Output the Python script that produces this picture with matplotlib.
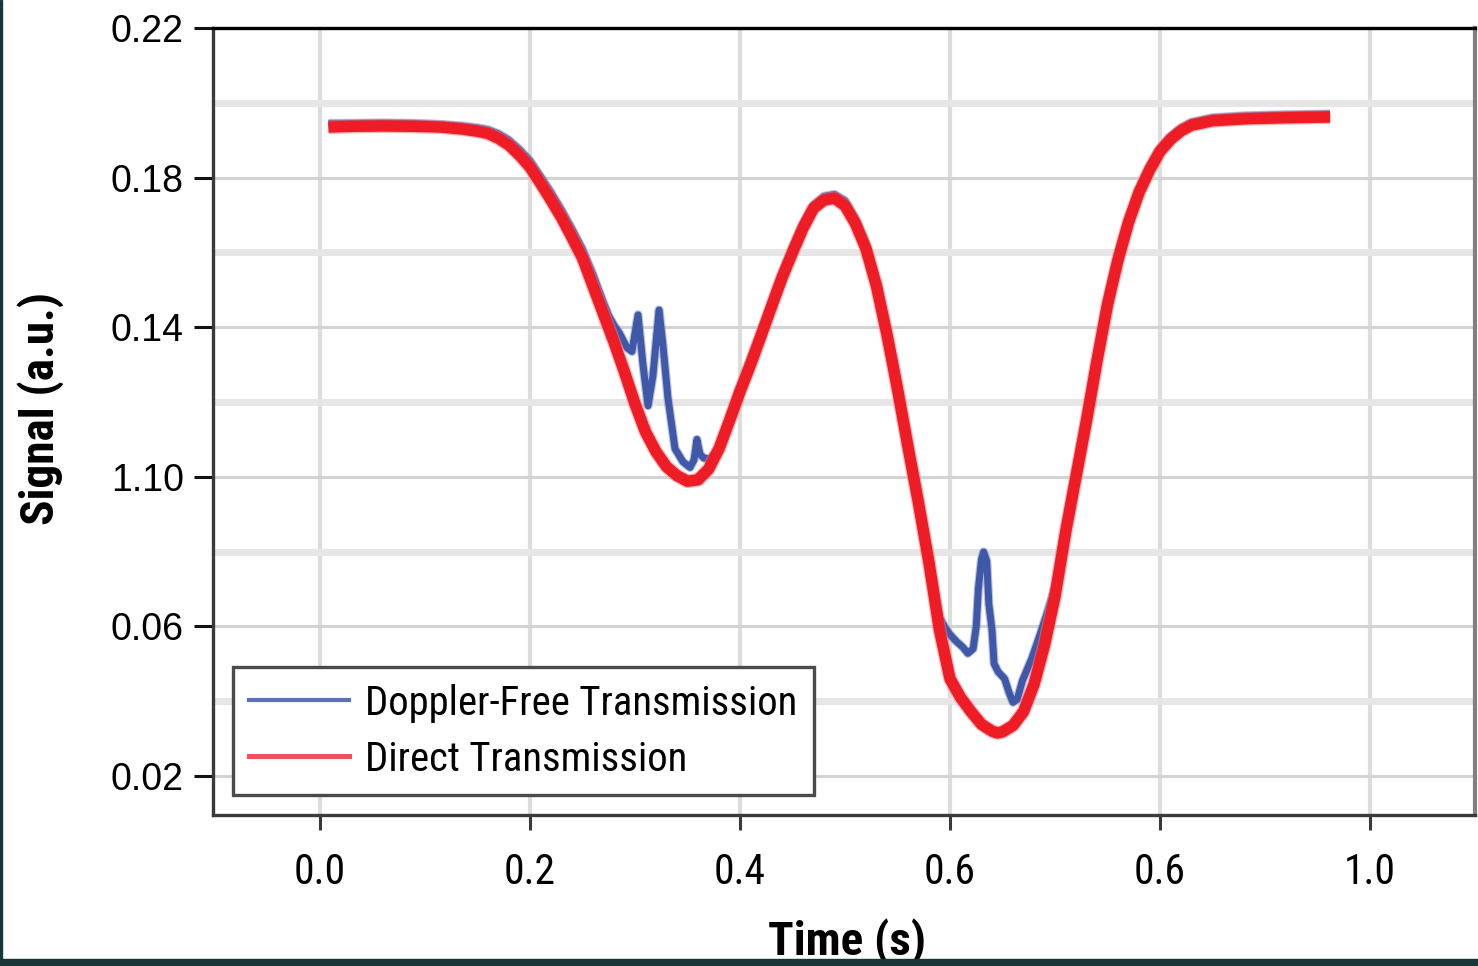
import matplotlib
matplotlib.use("Agg")
import matplotlib.pyplot as plt
from matplotlib.lines import Line2D
from matplotlib.patches import Rectangle
from matplotlib import font_manager as fm

# ---------------- data ----------------
direct_t = [0.008, 0.03, 0.06, 0.09, 0.115, 0.135, 0.15, 0.16, 0.17, 0.18, 0.19, 0.20,
            0.21, 0.22, 0.23, 0.24, 0.25, 0.26, 0.27, 0.28, 0.29, 0.30, 0.31, 0.32,
            0.33, 0.34, 0.35, 0.36, 0.37, 0.38, 0.39, 0.40, 0.41, 0.42, 0.43, 0.44,
            0.45, 0.46, 0.47, 0.48, 0.49, 0.50, 0.51, 0.52, 0.53, 0.54, 0.55, 0.56,
            0.57, 0.58, 0.59, 0.60, 0.61, 0.62, 0.63, 0.64, 0.645, 0.65, 0.66, 0.67,
            0.68, 0.69, 0.70, 0.71, 0.72, 0.73, 0.74, 0.75, 0.76, 0.77, 0.78, 0.79,
            0.80, 0.81, 0.82, 0.83, 0.85, 0.88, 0.92, 0.962]
direct_v = [0.1935, 0.1937, 0.1938, 0.1937, 0.1935, 0.1930, 0.1924, 0.1918, 0.1905, 0.1887, 0.1860, 0.1828,
            0.1785, 0.1740, 0.1693, 0.1640, 0.1585, 0.1510, 0.1435, 0.1360, 0.1280, 0.1195, 0.1120, 0.1067,
            0.1027, 0.1003, 0.0988, 0.0992, 0.1020, 0.1075, 0.1150, 0.1228, 0.1300, 0.1377, 0.1455, 0.1532,
            0.1600, 0.1665, 0.1718, 0.1740, 0.1745, 0.1725, 0.1677, 0.1610, 0.1510, 0.1380, 0.1235, 0.1080,
            0.0930, 0.0770, 0.0590, 0.0460, 0.0410, 0.0372, 0.0338, 0.0320, 0.0315, 0.0318, 0.0335, 0.0372,
            0.0445, 0.0550, 0.0680, 0.0850, 0.1000, 0.1150, 0.1310, 0.1460, 0.1580, 0.1680, 0.1760, 0.1820,
            0.1870, 0.1902, 0.1925, 0.1940, 0.1952, 0.1957, 0.1960, 0.1962]

doppler_t = [0.008, 0.03, 0.06, 0.09, 0.115, 0.135, 0.15, 0.16, 0.17, 0.18, 0.19, 0.20,
             0.21, 0.22, 0.23, 0.24, 0.25, 0.26, 0.27, 0.275, 0.28, 0.285, 0.2924, 0.2971,
             0.3029, 0.3076, 0.3124, 0.3171, 0.3229, 0.3267, 0.3314, 0.3381, 0.3457, 0.3524,
             0.3562, 0.359, 0.3619, 0.3657, 0.3714, 0.3771, 0.3829, 0.39, 0.40, 0.41, 0.42,
             0.43, 0.44, 0.45, 0.46, 0.47, 0.48, 0.49, 0.50, 0.51, 0.52, 0.53, 0.54, 0.55,
             0.56, 0.57, 0.58, 0.585, 0.59, 0.595, 0.600, 0.606, 0.612, 0.617, 0.622, 0.625,
             0.627, 0.630, 0.632, 0.635, 0.637, 0.640, 0.642, 0.646, 0.652, 0.656, 0.660,
             0.664, 0.669, 0.678, 0.686, 0.693, 0.70, 0.71, 0.72, 0.73, 0.74, 0.75, 0.76,
             0.77, 0.78, 0.79, 0.80, 0.81, 0.82, 0.83, 0.85, 0.88, 0.92, 0.962]
doppler_v = [0.1945, 0.1945, 0.1946, 0.1945, 0.1942, 0.1938, 0.1933, 0.1928, 0.1917, 0.1900, 0.1875, 0.1845,
             0.1803, 0.1760, 0.1713, 0.1662, 0.1608, 0.1540, 0.1465, 0.1430, 0.1405, 0.1385, 0.1345, 0.1335,
             0.1433, 0.1300, 0.1190, 0.1270, 0.1446, 0.1350, 0.1210, 0.1075, 0.1040, 0.1025,
             0.1045, 0.1100, 0.1060, 0.1050, 0.1048, 0.1065, 0.1095, 0.1160, 0.1240, 0.1315, 0.1388,
             0.1466, 0.1543, 0.1612, 0.1677, 0.1727, 0.1750, 0.1755, 0.1738, 0.1690, 0.1622, 0.1520, 0.1392, 0.1248,
             0.1093, 0.0943, 0.0785, 0.0700, 0.0625, 0.0598, 0.0578, 0.0560, 0.0545, 0.0528, 0.0540, 0.0600,
             0.0700, 0.0780, 0.0799, 0.0775, 0.0660, 0.0590, 0.0500, 0.0478, 0.0460, 0.0425, 0.0397,
             0.0405, 0.0455, 0.0515, 0.0580, 0.0640, 0.0705, 0.0870, 0.1020, 0.1170, 0.1325, 0.1475, 0.1595,
             0.1692, 0.1770, 0.1830, 0.1878, 0.1910, 0.1933, 0.1948, 0.1960, 0.1965, 0.1968, 0.1970]

x_ticks = [0.0, 0.2, 0.4, 0.6, 0.8, 1.0]
x_tick_labels = ["0.0", "0.2", "0.4", "0.6", "0.6", "1.0"]
y_ticks = [0.02, 0.06, 0.10, 0.14, 0.18, 0.22]
y_tick_labels = ["0.02", "0.06", "1.10", "0.14", "0.18", "0.22"]
y_minor = [0.04, 0.08, 0.12, 0.16, 0.20]
labels = ["Doppler-Free Transmission", "Direct Transmission"]


# ---------------- fonts: look for an installed narrow / condensed sans ----------------
def _weight(f):
    w = f.weight
    if isinstance(w, str):
        w = fm.weight_dict.get(w, 400)
    return int(w)


def find_narrow(bold):
    prefs = ["liberation sans narrow", "arial narrow", "roboto condensed",
             "noto sans", "dejavu sans", "open sans", "lato"]
    best, best_rank = None, 99
    for f in fm.fontManager.ttflist:
        nm = f.name.lower()
        fn = f.fname.lower()
        st = str(f.stretch).lower()
        if "mono" in nm or "serif" in nm or "mono" in fn or "cjk" in nm:
            continue
        narrow = ("narrow" in nm or "condensed" in nm or "condensed" in fn or "narrow" in fn
                  or st in ("condensed", "semi-condensed"))
        if not narrow:
            continue
        if "extra" in fn or "ultra" in fn or "semi" in fn or "extra" in st or "ultra" in st:
            continue
        if f.style != "normal":
            continue
        wt = _weight(f)
        if bold and not (650 <= wt <= 750):
            continue
        if not bold and not (380 <= wt <= 420):
            continue
        rank = 50
        for i, p in enumerate(prefs):
            if nm.startswith(p):
                rank = i
                break
        if rank < best_rank:
            best, best_rank = f, rank
    return best.fname if best else None


reg_file = find_narrow(False)
bold_file = find_narrow(True)


def fprop(size, bold=False):
    path = bold_file if bold else reg_file
    if path:
        return fm.FontProperties(fname=path, size=size)
    # fallback: regular width font, shrunk so the text keeps its width
    return fm.FontProperties(family=["Liberation Sans", "DejaVu Sans"], size=size * 0.83,
                             weight="bold" if bold else "normal")


REG = fm.FontProperties(family=["Liberation Sans", "DejaVu Sans"], size=27)
BLUE = "#3f58a8"
RED = "#ee1c25"

fig = plt.figure(figsize=(14.78, 9.66), dpi=100)
fig.patch.set_facecolor("white")
ax = fig.add_axes([213/1478, 1 - 815/966, (1475-213)/1478, (815-28)/966])

ax.plot(doppler_t, doppler_v, color="#8d9ad0", lw=6.6, alpha=0.6, zorder=2, solid_capstyle="butt")
ax.plot(doppler_t, doppler_v, color=BLUE, lw=5.0, zorder=2.1, solid_capstyle="butt")
ax.plot(direct_t, direct_v, color="#f47a80", lw=10.0, alpha=0.55, zorder=3, solid_capstyle="butt")
ax.plot(direct_t, direct_v, color=RED, lw=8.2, zorder=3.1, solid_capstyle="butt")

ax.set_xlim(-0.1019, 1.1)
ax.set_ylim(0.00957, 0.22)

ax.set_xticks(x_ticks)
ax.set_xticklabels(x_tick_labels, fontproperties=fprop(30))
ax.set_yticks(y_ticks)
ax.set_yticklabels(y_tick_labels, fontproperties=REG)
ax.set_yticks(y_minor, minor=True)
ax.tick_params(axis="y", which="major", length=14, width=2.2, color="#111111", pad=7)
ax.tick_params(axis="x", which="major", length=11, width=2.2, color="#3a3a3a", pad=16)
ax.tick_params(axis="y", which="minor", length=0)

ax.grid(False)
for xt in x_ticks:
    ax.axvline(xt, color="#dddddd", lw=3.0, zorder=0.5)
for yt in y_ticks:
    ax.axhline(yt, color="#d3d3d3", lw=2.2, zorder=0.6)
for ym in y_minor:
    ax.axhline(ym, color="#e6e6e6", lw=5.0, zorder=0.55)

ax.spines["top"].set_color("#000000")
ax.spines["top"].set_linewidth(2.4)
ax.spines["left"].set_color("#3a3a3a")
ax.spines["left"].set_linewidth(2.4)
ax.spines["bottom"].set_color("#3a3a3a")
ax.spines["bottom"].set_linewidth(2.4)
ax.spines["right"].set_color("#808080")
ax.spines["right"].set_linewidth(3.0)
for s in ax.spines.values():
    s.set_zorder(5)

handles = [Line2D([], [], color="#5b70b8", lw=3.0),
           Line2D([], [], color="#f2505a", lw=3.6)]
leg = ax.legend(handles, labels, loc="lower left", bbox_to_anchor=(20/1262, 20/787),
                borderaxespad=0, frameon=True, fancybox=False, framealpha=1,
                prop=fprop(29.3), handlelength=2.45,
                handletextpad=0.4, labelspacing=0.42, borderpad=0.4)
leg.get_frame().set_edgecolor("#4a4a4a")
leg.get_frame().set_linewidth(2.4)
leg.set_zorder(6)

fig.text(847/1478, 1 - 955/966, "Time (s)", ha="center", va="baseline",
         fontproperties=fprop(34, bold=True))
fig.text(41/1478, 1 - 408/966, "Signal (a.u.)", ha="center", va="center", rotation=90,
         fontproperties=fprop(34, bold=True))

# dark frame edges of the original figure
fig.patches.append(Rectangle((0, 0), 1, 7/966, transform=fig.transFigure,
                             color="#183638", zorder=10))
fig.patches.append(Rectangle((0, 0), 2/1478, 1, transform=fig.transFigure,
                             color="#183638", zorder=10))

fig.savefig("out.png", dpi=100)
